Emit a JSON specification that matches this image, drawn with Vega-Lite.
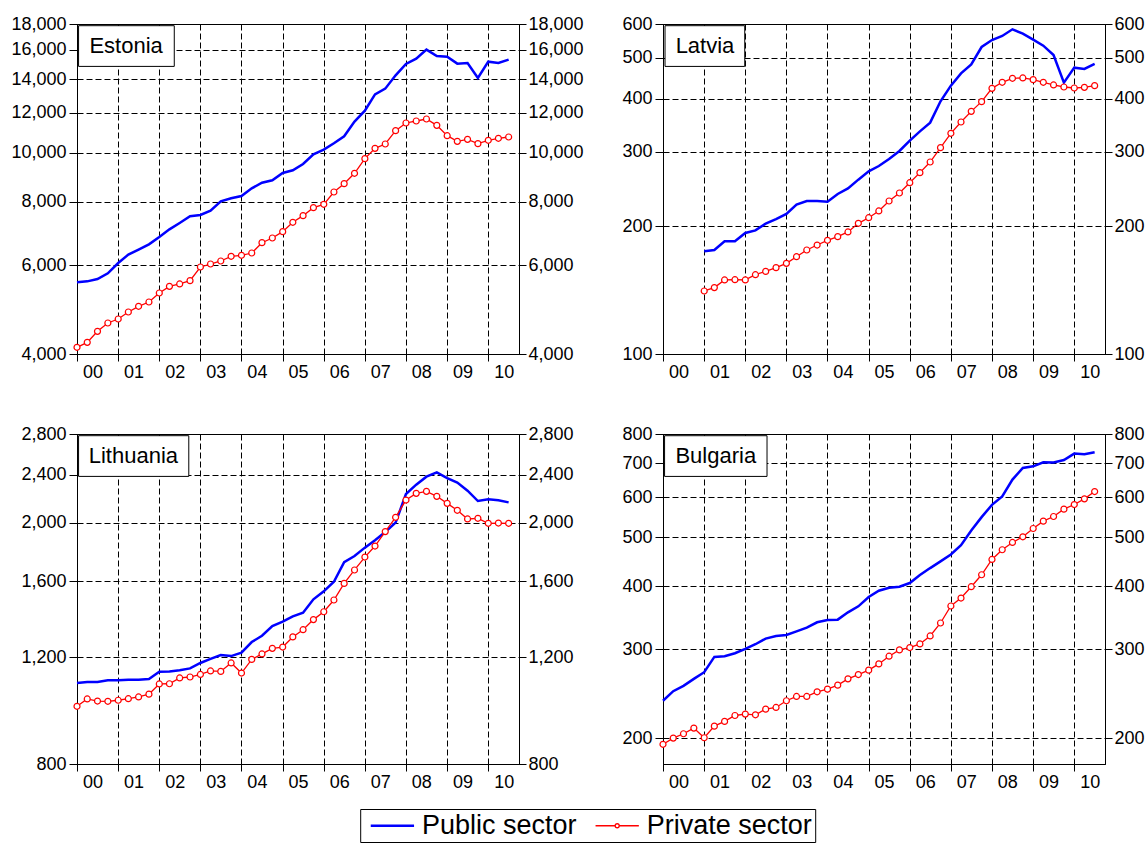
{
"$schema": "https://vega.github.io/schema/vega-lite/v6.json",
"padding": {"left": 10, "top": 14, "right": 0, "bottom": 0},
"background": "white",
"columns": 2,
"spacing": {"row": 80, "column": 144},
"bounds": "flush",
"resolve": {"scale": {"color": "shared"}, "legend": {"color": "shared"}},
"datasets": {
"estonia": [
{"date":"2000-01-01","sector":"Public sector","value":5545},{"date":"2000-04-01","sector":"Public sector","value":5570},{"date":"2000-07-01","sector":"Public sector","value":5630},{"date":"2000-10-01","sector":"Public sector","value":5778},
{"date":"2001-01-01","sector":"Public sector","value":6056},{"date":"2001-04-01","sector":"Public sector","value":6291},{"date":"2001-07-01","sector":"Public sector","value":6436},{"date":"2001-10-01","sector":"Public sector","value":6594},
{"date":"2002-01-01","sector":"Public sector","value":6818},{"date":"2002-04-01","sector":"Public sector","value":7060},{"date":"2002-07-01","sector":"Public sector","value":7268},{"date":"2002-10-01","sector":"Public sector","value":7492},
{"date":"2003-01-01","sector":"Public sector","value":7537},{"date":"2003-04-01","sector":"Public sector","value":7688},{"date":"2003-07-01","sector":"Public sector","value":8022},{"date":"2003-10-01","sector":"Public sector","value":8132},
{"date":"2004-01-01","sector":"Public sector","value":8219},{"date":"2004-04-01","sector":"Public sector","value":8512},{"date":"2004-07-01","sector":"Public sector","value":8734},{"date":"2004-10-01","sector":"Public sector","value":8828},
{"date":"2005-01-01","sector":"Public sector","value":9127},{"date":"2005-04-01","sector":"Public sector","value":9239},{"date":"2005-07-01","sector":"Public sector","value":9510},{"date":"2005-10-01","sector":"Public sector","value":9938},
{"date":"2006-01-01","sector":"Public sector","value":10151},{"date":"2006-04-01","sector":"Public sector","value":10449},{"date":"2006-07-01","sector":"Public sector","value":10788},{"date":"2006-10-01","sector":"Public sector","value":11534},
{"date":"2007-01-01","sector":"Public sector","value":12126},{"date":"2007-04-01","sector":"Public sector","value":13063},{"date":"2007-07-01","sector":"Public sector","value":13406},{"date":"2007-10-01","sector":"Public sector","value":14245},
{"date":"2008-01-01","sector":"Public sector","value":15001},{"date":"2008-04-01","sector":"Public sector","value":15370},{"date":"2008-07-01","sector":"Public sector","value":16013},{"date":"2008-10-01","sector":"Public sector","value":15558},
{"date":"2009-01-01","sector":"Public sector","value":15510},{"date":"2009-04-01","sector":"Public sector","value":15024},{"date":"2009-07-01","sector":"Public sector","value":15070},{"date":"2009-10-01","sector":"Public sector","value":14074},
{"date":"2010-01-01","sector":"Public sector","value":15162},{"date":"2010-04-01","sector":"Public sector","value":15070},{"date":"2010-07-01","sector":"Public sector","value":15300},
{"date":"2000-01-01","sector":"Private sector","value":4124},{"date":"2000-04-01","sector":"Private sector","value":4218},{"date":"2000-07-01","sector":"Private sector","value":4435},{"date":"2000-10-01","sector":"Private sector","value":4607},
{"date":"2001-01-01","sector":"Private sector","value":4692},{"date":"2001-04-01","sector":"Private sector","value":4844},{"date":"2001-07-01","sector":"Private sector","value":4971},{"date":"2001-10-01","sector":"Private sector","value":5070},
{"date":"2002-01-01","sector":"Private sector","value":5282},{"date":"2002-04-01","sector":"Private sector","value":5445},{"date":"2002-07-01","sector":"Private sector","value":5504},{"date":"2002-10-01","sector":"Private sector","value":5588},
{"date":"2003-01-01","sector":"Private sector","value":5947},{"date":"2003-04-01","sector":"Private sector","value":6028},{"date":"2003-07-01","sector":"Private sector","value":6112},{"date":"2003-10-01","sector":"Private sector","value":6243},
{"date":"2004-01-01","sector":"Private sector","value":6272},{"date":"2004-04-01","sector":"Private sector","value":6338},{"date":"2004-07-01","sector":"Private sector","value":6644},{"date":"2004-10-01","sector":"Private sector","value":6787},
{"date":"2005-01-01","sector":"Private sector","value":6986},{"date":"2005-04-01","sector":"Private sector","value":7290},{"date":"2005-07-01","sector":"Private sector","value":7515},{"date":"2005-10-01","sector":"Private sector","value":7794},
{"date":"2006-01-01","sector":"Private sector","value":7913},{"date":"2006-04-01","sector":"Private sector","value":8370},{"date":"2006-07-01","sector":"Private sector","value":8695},{"date":"2006-10-01","sector":"Private sector","value":9114},
{"date":"2007-01-01","sector":"Private sector","value":9744},{"date":"2007-04-01","sector":"Private sector","value":10213},{"date":"2007-07-01","sector":"Private sector","value":10417},{"date":"2007-10-01","sector":"Private sector","value":11070},
{"date":"2008-01-01","sector":"Private sector","value":11464},{"date":"2008-04-01","sector":"Private sector","value":11568},{"date":"2008-07-01","sector":"Private sector","value":11674},{"date":"2008-10-01","sector":"Private sector","value":11342},
{"date":"2009-01-01","sector":"Private sector","value":10820},{"date":"2009-04-01","sector":"Private sector","value":10544},{"date":"2009-07-01","sector":"Private sector","value":10641},{"date":"2009-10-01","sector":"Private sector","value":10433},
{"date":"2010-01-01","sector":"Private sector","value":10593},{"date":"2010-04-01","sector":"Private sector","value":10690},{"date":"2010-07-01","sector":"Private sector","value":10755}
],
"latvia": [
{"date":"2001-01-01","sector":"Public sector","value":174.6},{"date":"2001-04-01","sector":"Public sector","value":175.9},{"date":"2001-07-01","sector":"Public sector","value":184.4},{"date":"2001-10-01","sector":"Public sector","value":184.4},
{"date":"2002-01-01","sector":"Public sector","value":192.9},{"date":"2002-04-01","sector":"Public sector","value":195.7},{"date":"2002-07-01","sector":"Public sector","value":202.9},{"date":"2002-10-01","sector":"Public sector","value":208.1},
{"date":"2003-01-01","sector":"Public sector","value":213.9},{"date":"2003-04-01","sector":"Public sector","value":225.0},{"date":"2003-07-01","sector":"Public sector","value":229.5},{"date":"2003-10-01","sector":"Public sector","value":229.5},
{"date":"2004-01-01","sector":"Public sector","value":228.7},{"date":"2004-04-01","sector":"Public sector","value":238.4},{"date":"2004-07-01","sector":"Public sector","value":245.8},{"date":"2004-10-01","sector":"Public sector","value":257.7},
{"date":"2005-01-01","sector":"Public sector","value":269.6},{"date":"2005-04-01","sector":"Public sector","value":277.5},{"date":"2005-07-01","sector":"Public sector","value":288.3},{"date":"2005-10-01","sector":"Public sector","value":301.1},
{"date":"2006-01-01","sector":"Public sector","value":318.5},{"date":"2006-04-01","sector":"Public sector","value":335.0},{"date":"2006-07-01","sector":"Public sector","value":351.2},{"date":"2006-10-01","sector":"Public sector","value":394.3},
{"date":"2007-01-01","sector":"Public sector","value":429.3},{"date":"2007-04-01","sector":"Public sector","value":459.0},{"date":"2007-07-01","sector":"Public sector","value":482.0},{"date":"2007-10-01","sector":"Public sector","value":529.6},
{"date":"2008-01-01","sector":"Public sector","value":550.1},{"date":"2008-04-01","sector":"Public sector","value":562.2},{"date":"2008-07-01","sector":"Public sector","value":582.9},{"date":"2008-10-01","sector":"Public sector","value":569.4},
{"date":"2009-01-01","sector":"Public sector","value":551.1},{"date":"2009-04-01","sector":"Public sector","value":533.4},{"date":"2009-07-01","sector":"Public sector","value":507.1},{"date":"2009-10-01","sector":"Public sector","value":436.4},
{"date":"2010-01-01","sector":"Public sector","value":473.4},{"date":"2010-04-01","sector":"Public sector","value":470.0},{"date":"2010-07-01","sector":"Public sector","value":482.9},
{"date":"2001-01-01","sector":"Private sector","value":140.8},{"date":"2001-04-01","sector":"Private sector","value":143.4},{"date":"2001-07-01","sector":"Private sector","value":149.5},{"date":"2001-10-01","sector":"Private sector","value":149.7},
{"date":"2002-01-01","sector":"Private sector","value":149.5},{"date":"2002-04-01","sector":"Private sector","value":153.8},{"date":"2002-07-01","sector":"Private sector","value":156.6},{"date":"2002-10-01","sector":"Private sector","value":159.8},
{"date":"2003-01-01","sector":"Private sector","value":163.6},{"date":"2003-04-01","sector":"Private sector","value":169.6},{"date":"2003-07-01","sector":"Private sector","value":175.9},{"date":"2003-10-01","sector":"Private sector","value":180.7},
{"date":"2004-01-01","sector":"Private sector","value":185.4},{"date":"2004-04-01","sector":"Private sector","value":189.1},{"date":"2004-07-01","sector":"Private sector","value":194.0},{"date":"2004-10-01","sector":"Private sector","value":203.3},
{"date":"2005-01-01","sector":"Private sector","value":209.6},{"date":"2005-04-01","sector":"Private sector","value":217.4},{"date":"2005-07-01","sector":"Private sector","value":229.5},{"date":"2005-10-01","sector":"Private sector","value":239.7},
{"date":"2006-01-01","sector":"Private sector","value":253.5},{"date":"2006-04-01","sector":"Private sector","value":267.7},{"date":"2006-07-01","sector":"Private sector","value":283.6},{"date":"2006-10-01","sector":"Private sector","value":306.6},
{"date":"2007-01-01","sector":"Private sector","value":331.4},{"date":"2007-04-01","sector":"Private sector","value":352.4},{"date":"2007-07-01","sector":"Private sector","value":373.4},{"date":"2007-10-01","sector":"Private sector","value":393.6},
{"date":"2008-01-01","sector":"Private sector","value":423.1},{"date":"2008-04-01","sector":"Private sector","value":437.2},{"date":"2008-07-01","sector":"Private sector","value":446.8},{"date":"2008-10-01","sector":"Private sector","value":447.6},
{"date":"2009-01-01","sector":"Private sector","value":443.5},{"date":"2009-04-01","sector":"Private sector","value":437.2},{"date":"2009-07-01","sector":"Private sector","value":430.9},{"date":"2009-10-01","sector":"Private sector","value":426.2},
{"date":"2010-01-01","sector":"Private sector","value":423.9},{"date":"2010-04-01","sector":"Private sector","value":425.4},{"date":"2010-07-01","sector":"Private sector","value":429.3}
],
"lithuania": [
{"date":"2000-01-01","sector":"Public sector","value":1088},{"date":"2000-04-01","sector":"Public sector","value":1092},{"date":"2000-07-01","sector":"Public sector","value":1092},{"date":"2000-10-01","sector":"Public sector","value":1099},
{"date":"2001-01-01","sector":"Public sector","value":1099},{"date":"2001-04-01","sector":"Public sector","value":1102},{"date":"2001-07-01","sector":"Public sector","value":1102},{"date":"2001-10-01","sector":"Public sector","value":1105},
{"date":"2002-01-01","sector":"Public sector","value":1136},{"date":"2002-04-01","sector":"Public sector","value":1137},{"date":"2002-07-01","sector":"Public sector","value":1142},{"date":"2002-10-01","sector":"Public sector","value":1150},
{"date":"2003-01-01","sector":"Public sector","value":1174},{"date":"2003-04-01","sector":"Public sector","value":1192},{"date":"2003-07-01","sector":"Public sector","value":1210},{"date":"2003-10-01","sector":"Public sector","value":1205},
{"date":"2004-01-01","sector":"Public sector","value":1221},{"date":"2004-04-01","sector":"Public sector","value":1271},{"date":"2004-07-01","sector":"Public sector","value":1302},{"date":"2004-10-01","sector":"Public sector","value":1351},
{"date":"2005-01-01","sector":"Public sector","value":1373},{"date":"2005-04-01","sector":"Public sector","value":1401},{"date":"2005-07-01","sector":"Public sector","value":1421},{"date":"2005-10-01","sector":"Public sector","value":1495},
{"date":"2006-01-01","sector":"Public sector","value":1541},{"date":"2006-04-01","sector":"Public sector","value":1598},{"date":"2006-07-01","sector":"Public sector","value":1722},{"date":"2006-10-01","sector":"Public sector","value":1762},
{"date":"2007-01-01","sector":"Public sector","value":1819},{"date":"2007-04-01","sector":"Public sector","value":1870},{"date":"2007-07-01","sector":"Public sector","value":1930},{"date":"2007-10-01","sector":"Public sector","value":2000},
{"date":"2008-01-01","sector":"Public sector","value":2230},{"date":"2008-04-01","sector":"Public sector","value":2310},{"date":"2008-07-01","sector":"Public sector","value":2381},{"date":"2008-10-01","sector":"Public sector","value":2421},
{"date":"2009-01-01","sector":"Public sector","value":2369},{"date":"2009-04-01","sector":"Public sector","value":2328},{"date":"2009-07-01","sector":"Public sector","value":2258},{"date":"2009-10-01","sector":"Public sector","value":2171},
{"date":"2010-01-01","sector":"Public sector","value":2185},{"date":"2010-04-01","sector":"Public sector","value":2177},{"date":"2010-07-01","sector":"Public sector","value":2160},
{"date":"2000-01-01","sector":"Private sector","value":996},{"date":"2000-04-01","sector":"Private sector","value":1024},{"date":"2000-07-01","sector":"Private sector","value":1016},{"date":"2000-10-01","sector":"Private sector","value":1015},
{"date":"2001-01-01","sector":"Private sector","value":1019},{"date":"2001-04-01","sector":"Private sector","value":1025},{"date":"2001-07-01","sector":"Private sector","value":1032},{"date":"2001-10-01","sector":"Private sector","value":1043},
{"date":"2002-01-01","sector":"Private sector","value":1084},{"date":"2002-04-01","sector":"Private sector","value":1085},{"date":"2002-07-01","sector":"Private sector","value":1109},{"date":"2002-10-01","sector":"Private sector","value":1113},
{"date":"2003-01-01","sector":"Private sector","value":1124},{"date":"2003-04-01","sector":"Private sector","value":1139},{"date":"2003-07-01","sector":"Private sector","value":1137},{"date":"2003-10-01","sector":"Private sector","value":1174},
{"date":"2004-01-01","sector":"Private sector","value":1130},{"date":"2004-04-01","sector":"Private sector","value":1190},{"date":"2004-07-01","sector":"Private sector","value":1215},{"date":"2004-10-01","sector":"Private sector","value":1241},
{"date":"2005-01-01","sector":"Private sector","value":1247},{"date":"2005-04-01","sector":"Private sector","value":1296},{"date":"2005-07-01","sector":"Private sector","value":1332},{"date":"2005-10-01","sector":"Private sector","value":1384},
{"date":"2006-01-01","sector":"Private sector","value":1426},{"date":"2006-04-01","sector":"Private sector","value":1491},{"date":"2006-07-01","sector":"Private sector","value":1588},{"date":"2006-10-01","sector":"Private sector","value":1671},
{"date":"2007-01-01","sector":"Private sector","value":1755},{"date":"2007-04-01","sector":"Private sector","value":1830},{"date":"2007-07-01","sector":"Private sector","value":1933},{"date":"2007-10-01","sector":"Private sector","value":2041},
{"date":"2008-01-01","sector":"Private sector","value":2179},{"date":"2008-04-01","sector":"Private sector","value":2235},{"date":"2008-07-01","sector":"Private sector","value":2252},{"date":"2008-10-01","sector":"Private sector","value":2210},
{"date":"2009-01-01","sector":"Private sector","value":2152},{"date":"2009-04-01","sector":"Private sector","value":2096},{"date":"2009-07-01","sector":"Private sector","value":2028},{"date":"2009-10-01","sector":"Private sector","value":2033},
{"date":"2010-01-01","sector":"Private sector","value":1995},{"date":"2010-04-01","sector":"Private sector","value":1997},{"date":"2010-07-01","sector":"Private sector","value":1995}
],
"bulgaria": [
{"date":"2000-01-01","sector":"Public sector","value":237.4},{"date":"2000-04-01","sector":"Public sector","value":248.0},{"date":"2000-07-01","sector":"Public sector","value":254.1},{"date":"2000-10-01","sector":"Public sector","value":262.3},
{"date":"2001-01-01","sector":"Public sector","value":270.4},{"date":"2001-04-01","sector":"Public sector","value":289.9},{"date":"2001-07-01","sector":"Public sector","value":290.8},{"date":"2001-10-01","sector":"Public sector","value":294.8},
{"date":"2002-01-01","sector":"Public sector","value":300.6},{"date":"2002-04-01","sector":"Public sector","value":307.1},{"date":"2002-07-01","sector":"Public sector","value":315.1},{"date":"2002-10-01","sector":"Public sector","value":318.9},
{"date":"2003-01-01","sector":"Public sector","value":320.4},{"date":"2003-04-01","sector":"Public sector","value":325.7},{"date":"2003-07-01","sector":"Public sector","value":331.2},{"date":"2003-10-01","sector":"Public sector","value":339.4},
{"date":"2004-01-01","sector":"Public sector","value":343.0},{"date":"2004-04-01","sector":"Public sector","value":343.5},{"date":"2004-07-01","sector":"Public sector","value":355.1},{"date":"2004-10-01","sector":"Public sector","value":365.0},
{"date":"2005-01-01","sector":"Public sector","value":380.8},{"date":"2005-04-01","sector":"Public sector","value":391.9},{"date":"2005-07-01","sector":"Public sector","value":397.3},{"date":"2005-10-01","sector":"Public sector","value":399.1},
{"date":"2006-01-01","sector":"Public sector","value":405.8},{"date":"2006-04-01","sector":"Public sector","value":420.8},{"date":"2006-07-01","sector":"Public sector","value":434.4},{"date":"2006-10-01","sector":"Public sector","value":447.8},
{"date":"2007-01-01","sector":"Public sector","value":462.2},{"date":"2007-04-01","sector":"Public sector","value":482.3},{"date":"2007-07-01","sector":"Public sector","value":515.5},{"date":"2007-10-01","sector":"Public sector","value":547.8},
{"date":"2008-01-01","sector":"Public sector","value":579.4},{"date":"2008-04-01","sector":"Public sector","value":601.8},{"date":"2008-07-01","sector":"Public sector","value":650.0},{"date":"2008-10-01","sector":"Public sector","value":685.4},
{"date":"2009-01-01","sector":"Public sector","value":690.6},{"date":"2009-04-01","sector":"Public sector","value":703.4},{"date":"2009-07-01","sector":"Public sector","value":703.0},{"date":"2009-10-01","sector":"Public sector","value":710.8},
{"date":"2010-01-01","sector":"Public sector","value":731.6},{"date":"2010-04-01","sector":"Public sector","value":729.4},{"date":"2010-07-01","sector":"Public sector","value":736.0},
{"date":"2000-01-01","sector":"Private sector","value":194.7},{"date":"2000-04-01","sector":"Private sector","value":200.3},{"date":"2000-07-01","sector":"Private sector","value":204.3},{"date":"2000-10-01","sector":"Private sector","value":209.6},
{"date":"2001-01-01","sector":"Private sector","value":200.6},{"date":"2001-04-01","sector":"Private sector","value":211.5},{"date":"2001-07-01","sector":"Private sector","value":216.1},{"date":"2001-10-01","sector":"Private sector","value":222.0},
{"date":"2002-01-01","sector":"Private sector","value":223.4},{"date":"2002-04-01","sector":"Private sector","value":222.7},{"date":"2002-07-01","sector":"Private sector","value":228.5},{"date":"2002-10-01","sector":"Private sector","value":230.3},
{"date":"2003-01-01","sector":"Private sector","value":237.4},{"date":"2003-04-01","sector":"Private sector","value":242.1},{"date":"2003-07-01","sector":"Private sector","value":242.1},{"date":"2003-10-01","sector":"Private sector","value":247.3},
{"date":"2004-01-01","sector":"Private sector","value":250.3},{"date":"2004-04-01","sector":"Private sector","value":254.9},{"date":"2004-07-01","sector":"Private sector","value":262.3},{"date":"2004-10-01","sector":"Private sector","value":267.5},
{"date":"2005-01-01","sector":"Private sector","value":272.9},{"date":"2005-04-01","sector":"Private sector","value":280.8},{"date":"2005-07-01","sector":"Private sector","value":290.8},{"date":"2005-10-01","sector":"Private sector","value":299.3},
{"date":"2006-01-01","sector":"Private sector","value":302.5},{"date":"2006-04-01","sector":"Private sector","value":307.5},{"date":"2006-07-01","sector":"Private sector","value":318.9},{"date":"2006-10-01","sector":"Private sector","value":338.3},
{"date":"2007-01-01","sector":"Private sector","value":365.5},{"date":"2007-04-01","sector":"Private sector","value":379.0},{"date":"2007-07-01","sector":"Private sector","value":399.1},{"date":"2007-10-01","sector":"Private sector","value":421.4},
{"date":"2008-01-01","sector":"Private sector","value":451.8},{"date":"2008-04-01","sector":"Private sector","value":472.2},{"date":"2008-07-01","sector":"Private sector","value":488.2},{"date":"2008-10-01","sector":"Private sector","value":500.9},
{"date":"2009-01-01","sector":"Private sector","value":520.2},{"date":"2009-04-01","sector":"Private sector","value":537.9},{"date":"2009-07-01","sector":"Private sector","value":549.5},{"date":"2009-10-01","sector":"Private sector","value":568.1},
{"date":"2010-01-01","sector":"Private sector","value":580.2},{"date":"2010-04-01","sector":"Private sector","value":595.4},{"date":"2010-07-01","sector":"Private sector","value":615.5}
]
},
"concat": [
{
"width": 442, "height": 330,
"data": {"name": "estonia"},
"resolve": {"axis": {"y": "independent"}},
"layer": [
{"transform": [{"filter": "datum.sector === 'Public sector'"}],
 "mark": {"type": "line", "strokeWidth": 2.5},
 "encoding": {
  "x": {"field": "date", "type": "temporal", "scale": {"type": "utc", "domain": [946684800000, 1285891200000]},
        "axis": {"title": null, "grid": true, "labelOffset": 15.4, "labelPadding": 2, "labelExpr": "utcFormat(datum.value, '%y')",
                 "values": [946684800000, 978307200000, 1009843200000, 1041379200000, 1072915200000, 1104537600000, 1136073600000, 1167609600000, 1199145600000, 1230768000000, 1262304000000]}},
  "y": {"field": "value", "type": "quantitative", "scale": {"type": "log", "domain": [4000, 18000], "nice": false},
        "axis": {"orient": "left", "title": null, "grid": true, "format": ",d", "tickSize": 8, "values": [4000,6000,8000,10000,12000,14000,16000,18000]}},
  "color": {"field": "sector", "type": "nominal", "scale": {"domain": ["Public sector", "Private sector"], "range": ["#0000ff", "#ff0000"]},
   "legend": {"orient": "none", "legendX": 283.2, "legendY": 785, "direction": "horizontal", "title": null, "strokeColor": "black", "fillColor": "white", "padding": 3,
     "labelFont": "Liberation Sans", "labelFontSize": 27, "labelColor": "black", "labelLimit": 400, "symbolSize": 625, "symbolStrokeWidth": 2.5, "symbolOffset": 15.7, "labelOffset": 16, "columnPadding": 10.8, "symbolType": "M-1.732,0H1.732",
     "encode": {"symbols": {"update": {"shape": {"signal": "datum.value === 'Private sector' ? 'M-1.732,0H-0.16M0.16,0H1.732M0.16,0A0.16,0.16,0,1,1,-0.16,0A0.16,0.16,0,1,1,0.16,0' : 'M-1.732,0H1.732'"}, "strokeWidth": {"signal": "datum.value === 'Private sector' ? 1.3 : 2.5"}, "fill": {"value": "white"}}}}}}
 }},
{"transform": [{"filter": "datum.sector === 'Private sector'"}],
 "mark": {"type": "line", "strokeWidth": 1.3},
 "encoding": {
  "x": {"field": "date", "type": "temporal"},
  "y": {"field": "value", "type": "quantitative", "axis": null},
  "color": {"field": "sector", "type": "nominal", "scale": {"domain": ["Public sector", "Private sector"], "range": ["#0000ff", "#ff0000"]},
   "legend": {"orient": "none", "legendX": 283.2, "legendY": 785, "direction": "horizontal", "title": null, "strokeColor": "black", "fillColor": "white", "padding": 3,
     "labelFont": "Liberation Sans", "labelFontSize": 27, "labelColor": "black", "labelLimit": 400, "symbolSize": 625, "symbolStrokeWidth": 2.5, "symbolOffset": 15.7, "labelOffset": 16, "columnPadding": 10.8, "symbolType": "M-1.732,0H1.732",
     "encode": {"symbols": {"update": {"shape": {"signal": "datum.value === 'Private sector' ? 'M-1.732,0H-0.16M0.16,0H1.732M0.16,0A0.16,0.16,0,1,1,-0.16,0A0.16,0.16,0,1,1,0.16,0' : 'M-1.732,0H1.732'"}, "strokeWidth": {"signal": "datum.value === 'Private sector' ? 1.3 : 2.5"}, "fill": {"value": "white"}}}}}}
 }},
{"transform": [{"filter": "datum.sector === 'Private sector'"}],
 "mark": {"type": "point", "shape": "circle", "filled": true, "fill": "white", "stroke": "#ff0000", "strokeWidth": 1.2, "size": 36, "opacity": 1},
 "encoding": {
  "x": {"field": "date", "type": "temporal"},
  "y": {"field": "value", "type": "quantitative", "axis": {"orient": "right", "title": null, "grid": false, "format": ",d", "labelPadding": 2, "values": [4000,6000,8000,10000,12000,14000,16000,18000]}}
 }},
{"data": {"values": [{"country": "Estonia"}]},
 "mark": {"type": "rect", "fill": "white", "stroke": "black", "strokeWidth": 1},
 "encoding": {
  "x": {"datum": {"year":2000,"month":1,"date":15,"utc":true}, "type": "temporal"},
  "x2": {"datum": {"year":2002,"month":5,"date":14,"utc":true}},
  "y": {"datum": 17861, "type": "quantitative", "axis": null},
  "y2": {"datum": 14837}
 }},
{"data": {"values": [{"country": "Estonia"}]},
 "mark": {"type": "text", "font": "Liberation Sans", "fontSize": 22, "color": "black", "align": "center", "baseline": "middle"},
 "encoding": {
  "x": {"datum": {"year":2001,"month":3,"date":12,"utc":true}, "type": "temporal"},
  "y": {"datum": 16283, "type": "quantitative", "axis": null},
  "text": {"field": "country"}
 }}
]
},
{
"width": 442, "height": 330,
"data": {"name": "latvia"},
"resolve": {"axis": {"y": "independent"}},
"layer": [
{"transform": [{"filter": "datum.sector === 'Public sector'"}],
 "mark": {"type": "line", "strokeWidth": 2.5},
 "encoding": {
  "x": {"field": "date", "type": "temporal", "scale": {"type": "utc", "domain": [946684800000, 1285891200000]},
        "axis": {"title": null, "grid": true, "labelOffset": 15.4, "labelPadding": 2, "labelExpr": "utcFormat(datum.value, '%y')",
                 "values": [946684800000, 978307200000, 1009843200000, 1041379200000, 1072915200000, 1104537600000, 1136073600000, 1167609600000, 1199145600000, 1230768000000, 1262304000000]}},
  "y": {"field": "value", "type": "quantitative", "scale": {"type": "log", "domain": [100, 600], "nice": false},
        "axis": {"orient": "left", "title": null, "grid": true, "format": ",d", "tickSize": 8, "values": [100,200,300,400,500,600]}},
  "color": {"field": "sector", "type": "nominal", "scale": {"domain": ["Public sector", "Private sector"], "range": ["#0000ff", "#ff0000"]},
   "legend": {"orient": "none", "legendX": 283.2, "legendY": 785, "direction": "horizontal", "title": null, "strokeColor": "black", "fillColor": "white", "padding": 3,
     "labelFont": "Liberation Sans", "labelFontSize": 27, "labelColor": "black", "labelLimit": 400, "symbolSize": 625, "symbolStrokeWidth": 2.5, "symbolOffset": 15.7, "labelOffset": 16, "columnPadding": 10.8, "symbolType": "M-1.732,0H1.732",
     "encode": {"symbols": {"update": {"shape": {"signal": "datum.value === 'Private sector' ? 'M-1.732,0H-0.16M0.16,0H1.732M0.16,0A0.16,0.16,0,1,1,-0.16,0A0.16,0.16,0,1,1,0.16,0' : 'M-1.732,0H1.732'"}, "strokeWidth": {"signal": "datum.value === 'Private sector' ? 1.3 : 2.5"}, "fill": {"value": "white"}}}}}}
 }},
{"transform": [{"filter": "datum.sector === 'Private sector'"}],
 "mark": {"type": "line", "strokeWidth": 1.3},
 "encoding": {
  "x": {"field": "date", "type": "temporal"},
  "y": {"field": "value", "type": "quantitative", "axis": null},
  "color": {"field": "sector", "type": "nominal", "scale": {"domain": ["Public sector", "Private sector"], "range": ["#0000ff", "#ff0000"]},
   "legend": {"orient": "none", "legendX": 283.2, "legendY": 785, "direction": "horizontal", "title": null, "strokeColor": "black", "fillColor": "white", "padding": 3,
     "labelFont": "Liberation Sans", "labelFontSize": 27, "labelColor": "black", "labelLimit": 400, "symbolSize": 625, "symbolStrokeWidth": 2.5, "symbolOffset": 15.7, "labelOffset": 16, "columnPadding": 10.8, "symbolType": "M-1.732,0H1.732",
     "encode": {"symbols": {"update": {"shape": {"signal": "datum.value === 'Private sector' ? 'M-1.732,0H-0.16M0.16,0H1.732M0.16,0A0.16,0.16,0,1,1,-0.16,0A0.16,0.16,0,1,1,0.16,0' : 'M-1.732,0H1.732'"}, "strokeWidth": {"signal": "datum.value === 'Private sector' ? 1.3 : 2.5"}, "fill": {"value": "white"}}}}}}
 }},
{"transform": [{"filter": "datum.sector === 'Private sector'"}],
 "mark": {"type": "point", "shape": "circle", "filled": true, "fill": "white", "stroke": "#ff0000", "strokeWidth": 1.2, "size": 36, "opacity": 1},
 "encoding": {
  "x": {"field": "date", "type": "temporal"},
  "y": {"field": "value", "type": "quantitative", "axis": {"orient": "right", "title": null, "grid": false, "format": ",d", "labelPadding": 2, "values": [100,200,300,400,500,600]}}
 }},
{"data": {"values": [{"country": "Latvia"}]},
 "mark": {"type": "rect", "fill": "white", "stroke": "black", "strokeWidth": 1},
 "encoding": {
  "x": {"datum": {"year":2000,"month":1,"date":19,"utc":true}, "type": "temporal"},
  "x2": {"datum": {"year":2001,"month":12,"date":27,"utc":true}},
  "y": {"datum": 594.5, "type": "quantitative", "axis": null},
  "y2": {"datum": 476.6}
 }},
{"data": {"values": [{"country": "Latvia"}]},
 "mark": {"type": "text", "font": "Liberation Sans", "fontSize": 22, "color": "black", "align": "center", "baseline": "middle"},
 "encoding": {
  "x": {"datum": {"year":2001,"month":1,"date":8,"utc":true}, "type": "temporal"},
  "y": {"datum": 532.4, "type": "quantitative", "axis": null},
  "text": {"field": "country"}
 }}
]
},
{
"width": 442, "height": 330,
"data": {"name": "lithuania"},
"resolve": {"axis": {"y": "independent"}},
"layer": [
{"transform": [{"filter": "datum.sector === 'Public sector'"}],
 "mark": {"type": "line", "strokeWidth": 2.5},
 "encoding": {
  "x": {"field": "date", "type": "temporal", "scale": {"type": "utc", "domain": [946684800000, 1285891200000]},
        "axis": {"title": null, "grid": true, "labelOffset": 15.4, "labelPadding": 2, "labelExpr": "utcFormat(datum.value, '%y')",
                 "values": [946684800000, 978307200000, 1009843200000, 1041379200000, 1072915200000, 1104537600000, 1136073600000, 1167609600000, 1199145600000, 1230768000000, 1262304000000]}},
  "y": {"field": "value", "type": "quantitative", "scale": {"type": "log", "domain": [800, 2800], "nice": false},
        "axis": {"orient": "left", "title": null, "grid": true, "format": ",d", "tickSize": 8, "values": [800,1200,1600,2000,2400,2800]}},
  "color": {"field": "sector", "type": "nominal", "scale": {"domain": ["Public sector", "Private sector"], "range": ["#0000ff", "#ff0000"]},
   "legend": {"orient": "none", "legendX": 283.2, "legendY": 785, "direction": "horizontal", "title": null, "strokeColor": "black", "fillColor": "white", "padding": 3,
     "labelFont": "Liberation Sans", "labelFontSize": 27, "labelColor": "black", "labelLimit": 400, "symbolSize": 625, "symbolStrokeWidth": 2.5, "symbolOffset": 15.7, "labelOffset": 16, "columnPadding": 10.8, "symbolType": "M-1.732,0H1.732",
     "encode": {"symbols": {"update": {"shape": {"signal": "datum.value === 'Private sector' ? 'M-1.732,0H-0.16M0.16,0H1.732M0.16,0A0.16,0.16,0,1,1,-0.16,0A0.16,0.16,0,1,1,0.16,0' : 'M-1.732,0H1.732'"}, "strokeWidth": {"signal": "datum.value === 'Private sector' ? 1.3 : 2.5"}, "fill": {"value": "white"}}}}}}
 }},
{"transform": [{"filter": "datum.sector === 'Private sector'"}],
 "mark": {"type": "line", "strokeWidth": 1.3},
 "encoding": {
  "x": {"field": "date", "type": "temporal"},
  "y": {"field": "value", "type": "quantitative", "axis": null},
  "color": {"field": "sector", "type": "nominal", "scale": {"domain": ["Public sector", "Private sector"], "range": ["#0000ff", "#ff0000"]},
   "legend": {"orient": "none", "legendX": 283.2, "legendY": 785, "direction": "horizontal", "title": null, "strokeColor": "black", "fillColor": "white", "padding": 3,
     "labelFont": "Liberation Sans", "labelFontSize": 27, "labelColor": "black", "labelLimit": 400, "symbolSize": 625, "symbolStrokeWidth": 2.5, "symbolOffset": 15.7, "labelOffset": 16, "columnPadding": 10.8, "symbolType": "M-1.732,0H1.732",
     "encode": {"symbols": {"update": {"shape": {"signal": "datum.value === 'Private sector' ? 'M-1.732,0H-0.16M0.16,0H1.732M0.16,0A0.16,0.16,0,1,1,-0.16,0A0.16,0.16,0,1,1,0.16,0' : 'M-1.732,0H1.732'"}, "strokeWidth": {"signal": "datum.value === 'Private sector' ? 1.3 : 2.5"}, "fill": {"value": "white"}}}}}}
 }},
{"transform": [{"filter": "datum.sector === 'Private sector'"}],
 "mark": {"type": "point", "shape": "circle", "filled": true, "fill": "white", "stroke": "#ff0000", "strokeWidth": 1.2, "size": 36, "opacity": 1},
 "encoding": {
  "x": {"field": "date", "type": "temporal"},
  "y": {"field": "value", "type": "quantitative", "axis": {"orient": "right", "title": null, "grid": false, "format": ",d", "labelPadding": 2, "values": [800,1200,1600,2000,2400,2800]}}
 }},
{"data": {"values": [{"country": "Lithuania"}]},
 "mark": {"type": "rect", "fill": "white", "stroke": "black", "strokeWidth": 1},
 "encoding": {
  "x": {"datum": {"year":2000,"month":1,"date":15,"utc":true}, "type": "temporal"},
  "x2": {"datum": {"year":2002,"month":9,"date":20,"utc":true}},
  "y": {"datum": 2782, "type": "quantitative", "axis": null},
  "y2": {"datum": 2383.7}
 }},
{"data": {"values": [{"country": "Lithuania"}]},
 "mark": {"type": "text", "font": "Liberation Sans", "fontSize": 22, "color": "black", "align": "center", "baseline": "middle"},
 "encoding": {
  "x": {"datum": {"year":2001,"month":5,"date":16,"utc":true}, "type": "temporal"},
  "y": {"datum": 2575.8, "type": "quantitative", "axis": null},
  "text": {"field": "country"}
 }}
]
},
{
"width": 442, "height": 330,
"data": {"name": "bulgaria"},
"resolve": {"axis": {"y": "independent"}},
"layer": [
{"transform": [{"filter": "datum.sector === 'Public sector'"}],
 "mark": {"type": "line", "strokeWidth": 2.5},
 "encoding": {
  "x": {"field": "date", "type": "temporal", "scale": {"type": "utc", "domain": [946684800000, 1285891200000]},
        "axis": {"title": null, "grid": true, "labelOffset": 15.4, "labelPadding": 2, "labelExpr": "utcFormat(datum.value, '%y')",
                 "values": [946684800000, 978307200000, 1009843200000, 1041379200000, 1072915200000, 1104537600000, 1136073600000, 1167609600000, 1199145600000, 1230768000000, 1262304000000]}},
  "y": {"field": "value", "type": "quantitative", "scale": {"type": "log", "domain": [178, 800], "nice": false},
        "axis": {"orient": "left", "title": null, "grid": true, "format": ",d", "tickSize": 8, "values": [200,300,400,500,600,700,800]}},
  "color": {"field": "sector", "type": "nominal", "scale": {"domain": ["Public sector", "Private sector"], "range": ["#0000ff", "#ff0000"]},
   "legend": {"orient": "none", "legendX": 283.2, "legendY": 785, "direction": "horizontal", "title": null, "strokeColor": "black", "fillColor": "white", "padding": 3,
     "labelFont": "Liberation Sans", "labelFontSize": 27, "labelColor": "black", "labelLimit": 400, "symbolSize": 625, "symbolStrokeWidth": 2.5, "symbolOffset": 15.7, "labelOffset": 16, "columnPadding": 10.8, "symbolType": "M-1.732,0H1.732",
     "encode": {"symbols": {"update": {"shape": {"signal": "datum.value === 'Private sector' ? 'M-1.732,0H-0.16M0.16,0H1.732M0.16,0A0.16,0.16,0,1,1,-0.16,0A0.16,0.16,0,1,1,0.16,0' : 'M-1.732,0H1.732'"}, "strokeWidth": {"signal": "datum.value === 'Private sector' ? 1.3 : 2.5"}, "fill": {"value": "white"}}}}}}
 }},
{"transform": [{"filter": "datum.sector === 'Private sector'"}],
 "mark": {"type": "line", "strokeWidth": 1.3},
 "encoding": {
  "x": {"field": "date", "type": "temporal"},
  "y": {"field": "value", "type": "quantitative", "axis": null},
  "color": {"field": "sector", "type": "nominal", "scale": {"domain": ["Public sector", "Private sector"], "range": ["#0000ff", "#ff0000"]},
   "legend": {"orient": "none", "legendX": 283.2, "legendY": 785, "direction": "horizontal", "title": null, "strokeColor": "black", "fillColor": "white", "padding": 3,
     "labelFont": "Liberation Sans", "labelFontSize": 27, "labelColor": "black", "labelLimit": 400, "symbolSize": 625, "symbolStrokeWidth": 2.5, "symbolOffset": 15.7, "labelOffset": 16, "columnPadding": 10.8, "symbolType": "M-1.732,0H1.732",
     "encode": {"symbols": {"update": {"shape": {"signal": "datum.value === 'Private sector' ? 'M-1.732,0H-0.16M0.16,0H1.732M0.16,0A0.16,0.16,0,1,1,-0.16,0A0.16,0.16,0,1,1,0.16,0' : 'M-1.732,0H1.732'"}, "strokeWidth": {"signal": "datum.value === 'Private sector' ? 1.3 : 2.5"}, "fill": {"value": "white"}}}}}}
 }},
{"transform": [{"filter": "datum.sector === 'Private sector'"}],
 "mark": {"type": "point", "shape": "circle", "filled": true, "fill": "white", "stroke": "#ff0000", "strokeWidth": 1.2, "size": 36, "opacity": 1},
 "encoding": {
  "x": {"field": "date", "type": "temporal"},
  "y": {"field": "value", "type": "quantitative", "axis": {"orient": "right", "title": null, "grid": false, "format": ",d", "labelPadding": 2, "values": [200,300,400,500,600,700,800]}}
 }},
{"data": {"values": [{"country": "Bulgaria"}]},
 "mark": {"type": "rect", "fill": "white", "stroke": "black", "strokeWidth": 1},
 "encoding": {
  "x": {"datum": {"year":2000,"month":1,"date":15,"utc":true}, "type": "temporal"},
  "x2": {"datum": {"year":2002,"month":7,"date":13,"utc":true}},
  "y": {"datum": 793.8, "type": "quantitative", "axis": null},
  "y2": {"datum": 659.5}
 }},
{"data": {"values": [{"country": "Bulgaria"}]},
 "mark": {"type": "text", "font": "Liberation Sans", "fontSize": 22, "color": "black", "align": "center", "baseline": "middle"},
 "encoding": {
  "x": {"datum": {"year":2001,"month":4,"date":14,"utc":true}, "type": "temporal"},
  "y": {"datum": 723.8, "type": "quantitative", "axis": null},
  "text": {"field": "country"}
 }}
]
}
],
"config": {
 "font": "Liberation Sans",
 "view": {"stroke": "black", "strokeWidth": 1},
 "axis": {"labelFont": "Liberation Sans", "labelFontSize": 18, "labelColor": "black", "tickColor": "black", "tickSize": 7, "tickWidth": 1,
          "domainColor": "black", "domainWidth": 1, "gridColor": "black", "gridDash": [6, 3], "gridOpacity": 1, "gridWidth": 1,
          "labelOverlap": false, "labelFlush": false, "labelPadding": 3, "labelBound": false}
}
}
